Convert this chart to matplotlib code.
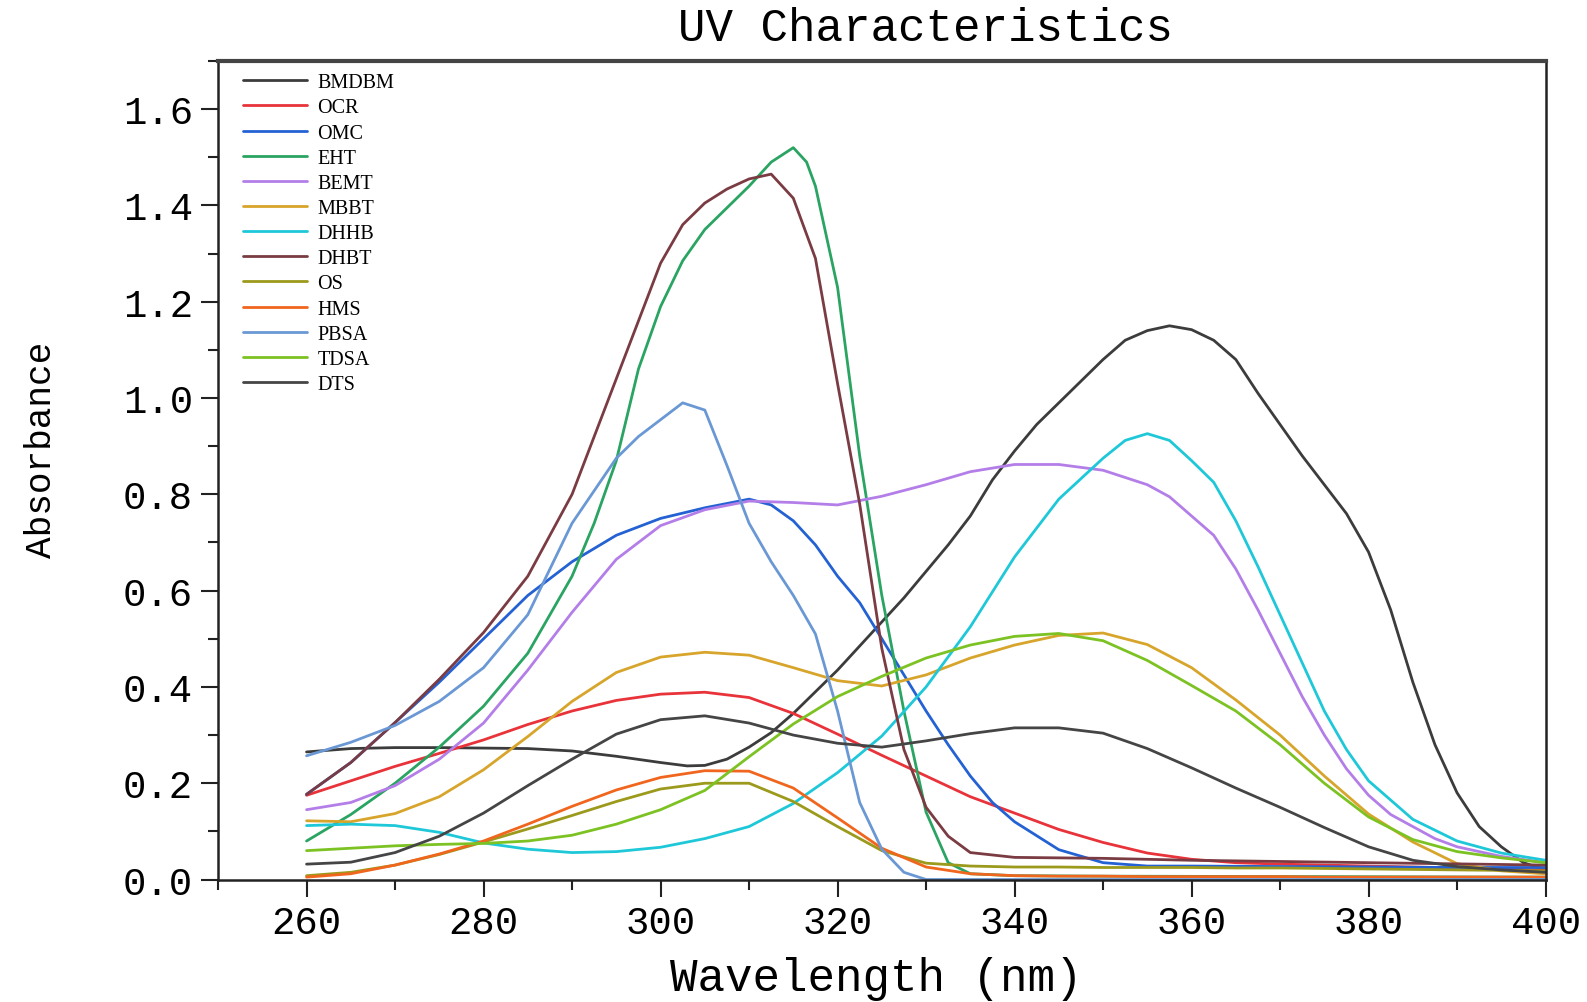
#!/usr/bin/env python3
"""UV absorbance curves of 13 UV filters, 260-400 nm."""

import matplotlib
matplotlib.use("Agg")
import matplotlib.pyplot as plt
from matplotlib.ticker import MultipleLocator

# ---- data ------------------------------------------------------------------
WL5 = list(range(260, 401, 5))

BMDBM_WL = [260, 265, 270, 275, 280, 285, 290, 295, 300, 303, 305,
            307.5, 310, 312.5, 315, 317.5, 320, 322.5, 325, 327.5, 330,
            332.5, 335, 337.5, 340, 342.5, 345, 347.5, 350,
            352.5, 355, 357.5, 360, 362.5, 365, 367.5, 370,
            372.5, 375, 377.5, 380,
            382.5, 385, 387.5, 390, 392.5, 395, 397.5, 400]
BMDBM_ABS = [0.265, 0.272, 0.274, 0.274, 0.273, 0.272, 0.267, 0.256, 0.243, 0.236, 0.237,
             0.25, 0.275, 0.305, 0.345, 0.39, 0.435, 0.485, 0.535, 0.585, 0.64,
             0.695, 0.755, 0.83, 0.89, 0.945, 0.99, 1.035, 1.08,
             1.12, 1.14, 1.15, 1.142, 1.12, 1.08, 1.01, 0.945,
             0.88, 0.82, 0.76, 0.68,
             0.56, 0.41, 0.28, 0.18, 0.11, 0.068, 0.035, 0.02]

OCR_ABS = [0.175, 0.205, 0.235, 0.262, 0.29, 0.322, 0.35, 0.372, 0.385, 0.389,
           0.378, 0.345, 0.302, 0.258, 0.215, 0.172, 0.138, 0.104, 0.077, 0.055,
           0.042, 0.035, 0.032, 0.03, 0.028, 0.026, 0.024, 0.022, 0.02]

OMC_WL = [260, 265, 270, 275, 280, 285, 290, 295, 300, 305, 310,
          312.5, 315, 317.5, 320, 322.5, 325, 327.5, 330, 332.5, 335,
          337.5, 340, 345, 350, 355, 360, 370, 380, 390, 400]
OMC_ABS = [0.177, 0.243, 0.326, 0.41, 0.50, 0.59, 0.66, 0.715, 0.75, 0.772, 0.79,
           0.778, 0.745, 0.695, 0.63, 0.575, 0.50, 0.425, 0.35, 0.28, 0.215,
           0.16, 0.12, 0.062, 0.035, 0.028, 0.028, 0.027, 0.026, 0.025, 0.025]

EHT_WL = [260, 265, 270, 275, 280, 285, 290, 292.5, 295, 297.5, 300,
          302.5, 305, 307.5, 310, 312.5, 315, 316.5, 317.5, 320, 322.5,
          325, 327.5, 330, 332.5, 335, 340, 350, 400]
EHT_ABS = [0.08, 0.135, 0.2, 0.275, 0.36, 0.47, 0.63, 0.74, 0.87, 1.06, 1.19,
           1.285, 1.35, 1.395, 1.44, 1.49, 1.52, 1.49, 1.44, 1.23, 0.88,
           0.59, 0.35, 0.14, 0.035, 0.012, 0.008, 0.007, 0.005]

BEMT_WL = [260, 265, 270, 275, 280, 285, 290, 295, 300, 305, 310, 315, 320,
           325, 330, 335, 340, 345, 350, 355, 357.5, 360, 362.5, 365, 367.5,
           370, 372.5, 375, 377.5, 380, 382.5, 385, 387.5, 390, 395, 400]
BEMT_ABS = [0.145, 0.16, 0.195, 0.25, 0.325, 0.435, 0.555, 0.665, 0.735, 0.768, 0.786, 0.783, 0.778,
            0.796, 0.82, 0.847, 0.862, 0.862, 0.85, 0.82, 0.795, 0.755, 0.715, 0.645, 0.56,
            0.47, 0.38, 0.30, 0.23, 0.175, 0.135, 0.11, 0.085, 0.068, 0.048, 0.035]

MBBT_ABS = [0.122, 0.12, 0.137, 0.172, 0.228, 0.297, 0.37, 0.43, 0.462, 0.472,
            0.466, 0.44, 0.413, 0.402, 0.425, 0.46, 0.487, 0.507, 0.512, 0.488,
            0.44, 0.373, 0.3, 0.215, 0.136, 0.078, 0.033, 0.018, 0.012]

DHHB_WL = [260, 265, 270, 275, 280, 285, 290, 295, 300, 305, 310, 315, 320,
           325, 330, 335, 340, 345, 350, 352.5, 355, 357.5, 360, 362.5, 365,
           367.5, 370, 372.5, 375, 377.5, 380, 385, 390, 395, 400]
DHHB_ABS = [0.112, 0.115, 0.112, 0.098, 0.076, 0.063, 0.056, 0.058, 0.067, 0.085, 0.11, 0.158, 0.222,
            0.298, 0.40, 0.525, 0.67, 0.79, 0.875, 0.912, 0.926, 0.912, 0.87, 0.825, 0.745,
            0.65, 0.55, 0.45, 0.35, 0.27, 0.205, 0.125, 0.08, 0.055, 0.04]

DHBT_WL = [260, 265, 270, 275, 280, 285, 290, 292.5, 295, 297.5, 300,
           302.5, 305, 307.5, 310, 312.5, 315, 317.5, 320, 322.5, 325,
           327.5, 330, 332.5, 335, 340, 350, 360, 380, 400]
DHBT_ABS = [0.177, 0.243, 0.326, 0.416, 0.513, 0.63, 0.80, 0.92, 1.04, 1.16, 1.28,
            1.36, 1.405, 1.434, 1.455, 1.465, 1.415, 1.29, 1.03, 0.78, 0.48,
            0.27, 0.15, 0.09, 0.056, 0.046, 0.044, 0.04, 0.035, 0.03]

OS_ABS = [0.008, 0.015, 0.03, 0.052, 0.078, 0.105, 0.133, 0.162, 0.188, 0.2,
          0.2, 0.162, 0.11, 0.06, 0.034, 0.028, 0.026, 0.026, 0.025, 0.025,
          0.025, 0.024, 0.024, 0.023, 0.022, 0.021, 0.02, 0.019, 0.018]

HMS_ABS = [0.005, 0.012, 0.03, 0.053, 0.08, 0.115, 0.152, 0.186, 0.212, 0.226,
           0.225, 0.19, 0.128, 0.065, 0.026, 0.012, 0.008, 0.007, 0.007, 0.006,
           0.006, 0.006, 0.006, 0.005, 0.005, 0.005, 0.005, 0.005, 0.005]

PBSA_WL = [260, 265, 270, 275, 280, 285, 290, 295, 297.5, 300, 302.5, 305,
           307.5, 310, 312.5, 315, 317.5, 320, 322.5, 325, 327.5, 330, 340, 400]
PBSA_ABS = [0.257, 0.285, 0.32, 0.37, 0.44, 0.55, 0.74, 0.875, 0.92, 0.955, 0.99, 0.975,
            0.86, 0.74, 0.66, 0.59, 0.51, 0.35, 0.16, 0.063, 0.015, 0.0, 0.0, 0.0]

TDSA_ABS = [0.06, 0.065, 0.07, 0.073, 0.075, 0.08, 0.092, 0.115, 0.145, 0.185,
            0.255, 0.323, 0.38, 0.422, 0.46, 0.487, 0.505, 0.511, 0.496, 0.455,
            0.403, 0.35, 0.28, 0.2, 0.13, 0.083, 0.058, 0.045, 0.035]

DTS_ABS = [0.032, 0.036, 0.056, 0.09, 0.138, 0.195, 0.25, 0.302, 0.332, 0.34,
           0.325, 0.3, 0.283, 0.275, 0.288, 0.303, 0.315, 0.315, 0.304, 0.272,
           0.232, 0.19, 0.15, 0.108, 0.068, 0.04, 0.027, 0.02, 0.015]

SERIES = [
    ("BMDBM", BMDBM_WL, BMDBM_ABS, "#3c3c3c"),
    ("OCR",   WL5,      OCR_ABS,   "#e8333a"),
    ("OMC",   OMC_WL,   OMC_ABS,   "#2462d4"),
    ("EHT",   EHT_WL,   EHT_ABS,   "#2aa462"),
    ("BEMT",  BEMT_WL,  BEMT_ABS,  "#b47ee8"),
    ("MBBT",  WL5,      MBBT_ABS,  "#d8a52c"),
    ("DHHB",  DHHB_WL,  DHHB_ABS,  "#1ec8d8"),
    ("DHBT",  DHBT_WL,  DHBT_ABS,  "#7a3c42"),
    ("OS",    WL5,      OS_ABS,    "#9c9a1c"),
    ("HMS",   WL5,      HMS_ABS,   "#f0661e"),
    ("PBSA",  PBSA_WL,  PBSA_ABS,  "#6a98d4"),
    ("TDSA",  WL5,      TDSA_ABS,  "#7cc222"),
    ("DTS",   WL5,      DTS_ABS,   "#454545"),
]

MONO = "Liberation Mono"

fig = plt.figure(figsize=(15.87, 10.03), dpi=100)
ax = fig.add_axes([0.1374, 0.1221, 0.8365, 0.8161])

for name, wl, ab, col in SERIES:
    assert len(wl) == len(ab), name
    ax.plot(wl, ab, color=col, lw=2.0, label=name,
            solid_joinstyle="round", solid_capstyle="round")

ax.set_xlim(250, 400)
ax.set_ylim(0, 1.7)
ax.xaxis.set_major_locator(MultipleLocator(20))
ax.xaxis.set_minor_locator(MultipleLocator(10))
ax.yaxis.set_major_locator(MultipleLocator(0.2))
ax.yaxis.set_minor_locator(MultipleLocator(0.1))
ax.set_xticks(range(260, 401, 20))
ax.yaxis.set_major_formatter(plt.FuncFormatter(lambda v, _: f"{v:.1f}"))

ax.tick_params(which="both", direction="out", top=False, right=False,
               width=1.5, color="#222222")
ax.tick_params(which="major", length=12, labelsize=28, pad=6)
ax.tick_params(which="minor", length=7)
for lab in ax.get_xticklabels() + ax.get_yticklabels():
    lab.set_fontfamily(MONO)

for side in ("left", "bottom", "right"):
    ax.spines[side].set_linewidth(1.8)
    ax.spines[side].set_color("#222222")
ax.spines["top"].set_linewidth(3.0)
ax.spines["top"].set_color("#444444")

ax.set_xlabel("Wavelength (nm)", fontfamily=MONO, fontsize=33)
ax.xaxis.set_label_coords(0.496, -0.120)
ax.xaxis.label.set_va("center")
ax.set_ylabel("Absorbance", fontfamily=MONO, fontsize=26)
ax.yaxis.set_label_coords(-0.133, 0.526)
ax.yaxis.label.set_va("center")

# title sits a little right of the axes centre in the reference
fig.text(926 / 1587, 1 - 41 / 1003, "UV Characteristics", fontfamily=MONO,
         fontsize=33, ha="center", va="baseline")

ax.legend(loc="upper left", bbox_to_anchor=(0.0188, 0.985), frameon=False,
          borderpad=0, borderaxespad=0, handlelength=3.2, handletextpad=0.5,
          labelspacing=0.3, prop={"family": "Liberation Serif", "size": 14.5})

fig.savefig("out.png", dpi=100)
